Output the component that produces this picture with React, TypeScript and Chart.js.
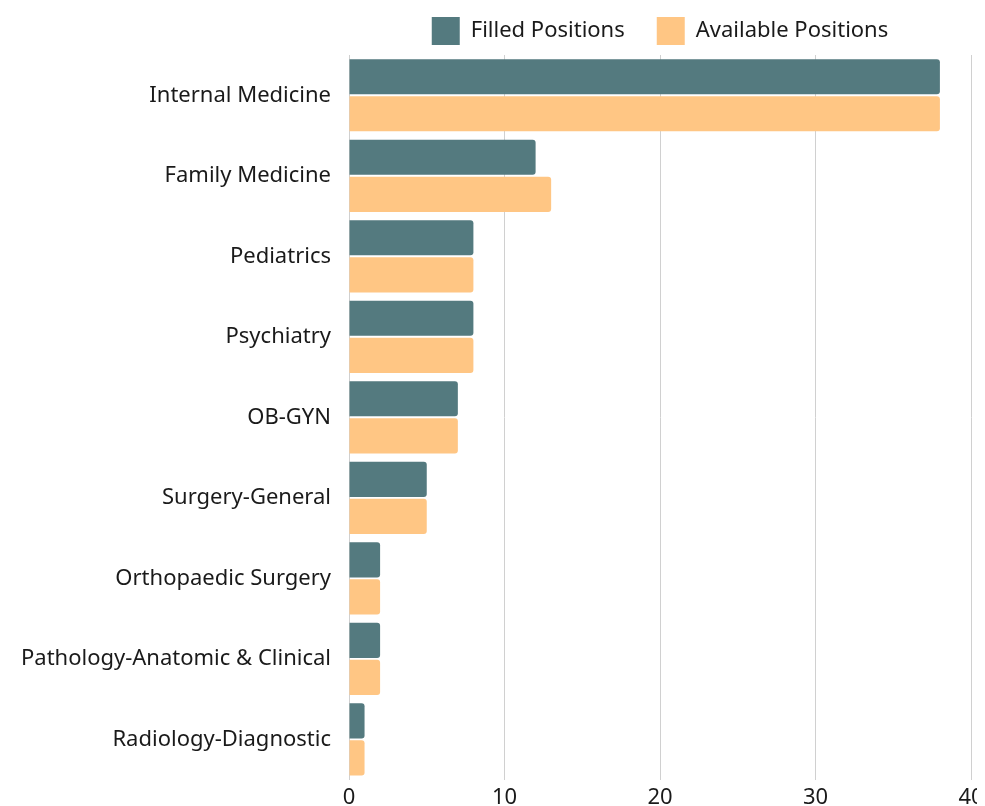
import React, { useEffect, useRef } from "react";
import { Chart, registerables } from "chart.js";

Chart.register(...registerables);

const categories = [
  "Internal Medicine",
  "Family Medicine",
  "Pediatrics",
  "Psychiatry",
  "OB-GYN",
  "Surgery-General",
  "Orthopaedic Surgery",
  "Pathology-Anatomic & Clinical",
  "Radiology-Diagnostic",
];
const filledPositions = [38, 12, 8, 8, 7, 5, 2, 2, 1];
const availablePositions = [38, 13, 8, 8, 7, 5, 2, 2, 1];
const xTicks = [0, 10, 20, 30, 40];

const FONT = "'Noto Sans', 'Open Sans', sans-serif";

export default function App() {
  const ref = useRef<HTMLCanvasElement | null>(null);
  useEffect(() => {
    document.body.style.overflow = "hidden";
    const chart = new Chart(ref.current!, {
      type: "bar",
      data: {
        labels: categories,
        datasets: [
          {
            label: "Filled Positions",
            data: filledPositions,
            backgroundColor: "#547a7f",
            borderRadius: 3,
            borderSkipped: "start",
            categoryPercentage: 0.92,
            barPercentage: 0.95,
          },
          {
            label: "Available Positions",
            data: availablePositions,
            backgroundColor: "#ffc684",
            borderRadius: 3,
            borderSkipped: "start",
            categoryPercentage: 0.92,
            barPercentage: 0.95,
          },
        ],
      },
      options: {
        indexAxis: "y",
        animation: false,
        responsive: true,
        maintainAspectRatio: false,
        layout: { padding: { right: 37, top: -23, bottom: 0 } },
        plugins: {
          tooltip: { enabled: false },
          legend: {
            position: "top",
            fullSize: false,
            labels: {
              boxWidth: 28,
              boxHeight: 28,
              padding: 32,
              color: "#1a1a1a",
              font: { family: FONT, size: 22 },
            },
          },
        },
        scales: {
          x: {
            min: 0,
            max: 40,
            afterBuildTicks: (s: any) => {
              s.ticks = xTicks.map((v) => ({ value: v }));
            },
            grid: { color: "#d0d0d0", drawTicks: false },
            border: { display: false },
            ticks: {
              color: "#1a1a1a",
              padding: 5,
              font: { family: FONT, size: 22 },
            },
          },
          y: {
            grid: { display: false },
            border: { display: false },
            afterFit: (s: any) => {
              s.width = 341;
            },
            ticks: {
              color: "#1a1a1a",
              padding: 10,
              font: { family: FONT, size: 22 },
            },
          },
        },
      },
    });
    return () => chart.destroy();
  }, []);
  return (
    <div style={{ position: "relative", width: 1000, height: 808 }}>
      <canvas ref={ref} />
    </div>
  );
}
